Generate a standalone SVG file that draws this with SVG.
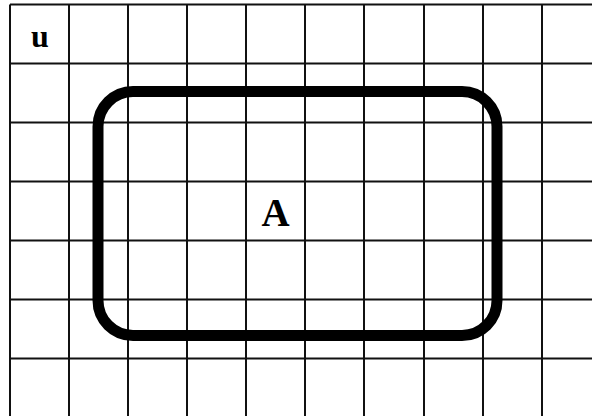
<svg xmlns="http://www.w3.org/2000/svg" width="592" height="416" viewBox="0 0 592 416">
<style>
.g{stroke:#111;stroke-width:2;fill:none}
.t{font-family:"Liberation Serif",serif;font-weight:bold;fill:#000;text-anchor:middle}
</style>
<rect width="592" height="416" fill="#fff"/>
<g id="grid" class="g">
<path d="M10 4.5V416M69 4.5V416M128 4.5V416M187 4.5V416M246 4.5V416M305 4.5V416M364 4.5V416M424 4.5V416M483 4.5V416M542 4.5V416"/>
<path d="M10 4.5H592M10 63.5H592M10 122.5H592M10 181.5H592M10 240.5H592M10 299.5H592M10 358.5H592"/>
</g>
<g id="u"><text class="t" x="40" y="46.5" font-size="32">u</text></g>
<g id="A">
<rect x="98" y="91.5" width="399" height="244" rx="35" ry="35" fill="none" stroke="#000" stroke-width="11"/>
<text class="t" x="275.5" y="225.5" font-size="39">A</text>
</g>
</svg>
